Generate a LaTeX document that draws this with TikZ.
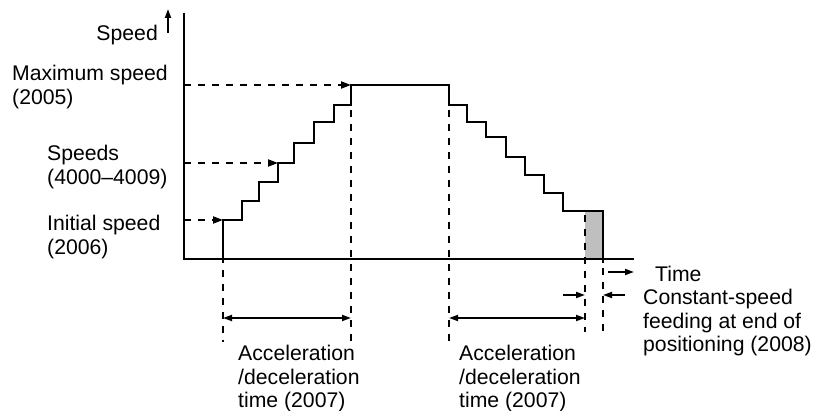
\documentclass[tikz,border=0pt]{standalone}
\usepackage{fontspec}
\setmainfont{Liberation Sans}
\usetikzlibrary{arrows.meta}
\begin{document}
\begin{tikzpicture}[x=1pt,y=-1pt,
  curve/.style={line width=2.1pt, line join=miter},
  axisline/.style={line width=2.1pt},
  guide/.style={line width=2.1pt, dash pattern=on 7pt off 7pt},
  tip/.style={-{Triangle[length=10pt,width=7pt]}},
  dim/.style={line width=1.8pt,{Triangle[length=9pt,width=6pt]}-{Triangle[length=9pt,width=6pt]}},
  small/.style={line width=1.8pt,-{Triangle[length=9pt,width=6pt]}},
  lbl/.style={inner sep=0pt, align=left, font=\fontsize{21.2}{23.5}\selectfont}]
\useasboundingbox (0,0) rectangle (814,411);
% key points
\coordinate (origin) at (184,259);
\coordinate (ytop) at (184,13);
\coordinate (xend) at (634,259);
\coordinate (init) at (223,220);
\coordinate (mid) at (278,163);
\coordinate (maxs) at (351,85);
% shaded constant-speed area
\fill[black!25] (585,211) rectangle (603,259);
% axes
\draw[axisline] (ytop) -- (origin) -- (xend);
% speed profile
\draw[curve] (223,263) -- (init) -- (242,220) -- (242,201) -- (259,201) -- (259,182)
  -- (278,182) -- (mid) -- (294,163) -- (294,143) -- (314,143) -- (314,122)
  -- (334,122) -- (334,105) -- (351,105) -- (maxs) -- (449,85) -- (449,105)
  -- (467,105) -- (467,122) -- (486,122) -- (486,137) -- (506,137) -- (506,157)
  -- (525,157) -- (525,175) -- (544,175) -- (544,193) -- (563,193) -- (563,211)
  -- (603,211) -- (603,263);
% dashed level guides
\draw[guide,tip] (184,220) -- (init);
\draw[guide,tip] (184,163) -- (mid);
\draw[guide,tip] (184,85) -- (maxs);
% dashed time guides
\draw[guide] (223,270) -- (223,342);
\draw[guide] (351,110) -- (351,342);
\draw[guide] (449,110) -- (449,342);
\draw[guide] (585,215) -- (585,332);
\draw[guide] (603,268) -- (603,332);
% dimension arrows
\coordinate (a1) at (223,318); \coordinate (a2) at (351,318);
\coordinate (b1) at (449,318); \coordinate (b2) at (585,318);
\draw[dim] (a1) -- (a2);
\draw[dim] (b1) -- (b2);
\coordinate (c1) at (563,295); \coordinate (c2) at (585,295);
\coordinate (d1) at (625,295); \coordinate (d2) at (603,295);
\draw[small] (c1) -- (c2);
\draw[small] (d1) -- (d2);
% axis direction arrows
\coordinate (t1) at (608,272); \coordinate (t2) at (634,272);
\draw[small] (t1) -- (t2);
\coordinate (v1) at (168,33); \coordinate (v2) at (168,9);
\draw[small] (v1) -- (v2);
% labels
\node[lbl, anchor=north east] (speed) at (158,25) {Speed};
\node[lbl, anchor=north west] (maxlbl) at (12,65) {Maximum speed\\(2005)};
\node[lbl, anchor=north west] (spdlbl) at (47,145) {Speeds\\(4000--4009)};
\node[lbl, anchor=north west] (inilbl) at (47,215) {Initial speed\\(2006)};
\node[lbl, anchor=north west] (time) at (655,266) {Time};
\node[lbl, anchor=north west] (cslbl) at (643,289) {Constant-speed\\feeding at end of\\positioning (2008)};
\node[lbl, anchor=north west] (acc1) at (238,345) {Acceleration\\/deceleration\\time (2007)};
\node[lbl, anchor=north west] (acc2) at (459,345) {Acceleration\\/deceleration\\time (2007)};
\end{tikzpicture}
\end{document}
